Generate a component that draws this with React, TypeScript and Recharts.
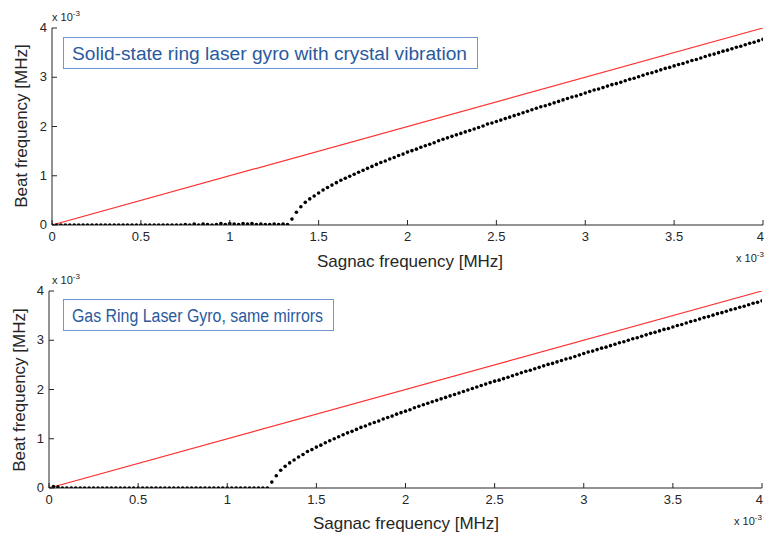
import { ComposedChart, Scatter, Line, XAxis, YAxis } from 'recharts'

// x: Sagnac frequency (x 10^-3 MHz), sampled every 0.025
const SAGNAC = [
  0, 0.025, 0.05, 0.075, 0.1, 0.125, 0.15, 0.175,
  0.2, 0.225, 0.25, 0.275, 0.3, 0.325, 0.35, 0.375,
  0.4, 0.425, 0.45, 0.475, 0.5, 0.525, 0.55, 0.575,
  0.6, 0.625, 0.65, 0.675, 0.7, 0.725, 0.75, 0.775,
  0.8, 0.825, 0.85, 0.875, 0.9, 0.925, 0.95, 0.975,
  1, 1.025, 1.05, 1.075, 1.1, 1.125, 1.15, 1.175,
  1.2, 1.225, 1.25, 1.275, 1.3, 1.325, 1.35, 1.375,
  1.4, 1.425, 1.45, 1.475, 1.5, 1.525, 1.55, 1.575,
  1.6, 1.625, 1.65, 1.675, 1.7, 1.725, 1.75, 1.775,
  1.8, 1.825, 1.85, 1.875, 1.9, 1.925, 1.95, 1.975,
  2, 2.025, 2.05, 2.075, 2.1, 2.125, 2.15, 2.175,
  2.2, 2.225, 2.25, 2.275, 2.3, 2.325, 2.35, 2.375,
  2.4, 2.425, 2.45, 2.475, 2.5, 2.525, 2.55, 2.575,
  2.6, 2.625, 2.65, 2.675, 2.7, 2.725, 2.75, 2.775,
  2.8, 2.825, 2.85, 2.875, 2.9, 2.925, 2.95, 2.975,
  3, 3.025, 3.05, 3.075, 3.1, 3.125, 3.15, 3.175,
  3.2, 3.225, 3.25, 3.275, 3.3, 3.325, 3.35, 3.375,
  3.4, 3.425, 3.45, 3.475, 3.5, 3.525, 3.55, 3.575,
  3.6, 3.625, 3.65, 3.675, 3.7, 3.725, 3.75, 3.775,
  3.8, 3.825, 3.85, 3.875, 3.9, 3.925, 3.95, 3.975,
  4,
]

// beat frequency, solid-state gyro (locks below ~1.35)
const BEAT_SOLID = [
  0, 0, 0, 0, 0, 0, 0, 0,
  0, 0, 0, 0, 0, 0, 0, 0,
  0, 0, 0, 0, 0, 0, 0, 0,
  0, 0, 0, 0, 0, 0, 0.01, 0,
  0.02, 0, 0.02, 0.01, 0, 0.01, 0.03, 0.01,
  0.03, 0.02, 0.01, 0.03, 0.02, 0.03, 0.01, 0.02,
  0.01, 0.01, 0.02, 0.01, 0.02, 0.01, 0.12, 0.26,
  0.37, 0.46, 0.53, 0.59, 0.65, 0.71, 0.76, 0.81,
  0.86, 0.91, 0.95, 0.99, 1.03, 1.07, 1.11, 1.15,
  1.19, 1.23, 1.27, 1.3, 1.34, 1.37, 1.41, 1.44,
  1.48, 1.51, 1.54, 1.58, 1.61, 1.64, 1.67, 1.71,
  1.74, 1.77, 1.8, 1.83, 1.86, 1.89, 1.92, 1.95,
  1.98, 2.01, 2.05, 2.07, 2.1, 2.13, 2.16, 2.19,
  2.22, 2.25, 2.28, 2.31, 2.34, 2.37, 2.4, 2.42,
  2.45, 2.48, 2.51, 2.54, 2.57, 2.6, 2.62, 2.65,
  2.68, 2.71, 2.74, 2.76, 2.79, 2.82, 2.85, 2.87,
  2.9, 2.93, 2.96, 2.98, 3.01, 3.04, 3.07, 3.09,
  3.12, 3.15, 3.18, 3.2, 3.23, 3.26, 3.28, 3.31,
  3.34, 3.36, 3.39, 3.42, 3.45, 3.47, 3.5, 3.53,
  3.55, 3.58, 3.61, 3.63, 3.66, 3.69, 3.71, 3.74,
  3.77,
]

// beat frequency, gas gyro (locks below ~1.25)
const BEAT_GAS = [
  0, 0.03, 0.02, 0, 0, 0, 0, 0,
  0, 0, 0, 0, 0, 0, 0, 0,
  0, 0, 0, 0, 0, 0, 0, 0,
  0, 0, 0, 0, 0, 0, 0, 0,
  0, 0, 0, 0, 0, 0, 0, 0,
  0, 0, 0, 0, 0, 0, 0, 0,
  0, 0, 0.12, 0.25, 0.36, 0.44, 0.51, 0.57,
  0.63, 0.68, 0.74, 0.78, 0.83, 0.87, 0.92, 0.96,
  1, 1.04, 1.08, 1.12, 1.15, 1.19, 1.23, 1.26,
  1.3, 1.33, 1.36, 1.4, 1.43, 1.46, 1.5, 1.53,
  1.56, 1.59, 1.63, 1.66, 1.69, 1.72, 1.75, 1.78,
  1.81, 1.84, 1.87, 1.9, 1.93, 1.96, 1.99, 2.02,
  2.05, 2.08, 2.11, 2.14, 2.17, 2.19, 2.22, 2.25,
  2.28, 2.31, 2.34, 2.37, 2.39, 2.42, 2.45, 2.48,
  2.51, 2.53, 2.56, 2.59, 2.62, 2.64, 2.67, 2.7,
  2.73, 2.76, 2.78, 2.81, 2.84, 2.86, 2.89, 2.92,
  2.95, 2.97, 3, 3.03, 3.05, 3.08, 3.11, 3.14,
  3.16, 3.19, 3.22, 3.24, 3.27, 3.3, 3.32, 3.35,
  3.38, 3.4, 3.43, 3.46, 3.48, 3.51, 3.54, 3.56,
  3.59, 3.62, 3.64, 3.67, 3.69, 3.72, 3.75, 3.77,
  3.8,
]

// ideal (no lock-in) response, red line
const IDEAL_X = [0, 4]
const IDEAL_Y = [0, 4]

const X_TICKS = [0, 0.5, 1, 1.5, 2, 2.5, 3, 3.5, 4]
const Y_TICKS = [0, 1, 2, 3, 4]

const FONT = 'Arial, "Liberation Sans", Helvetica, sans-serif'
const INK = '#262626'
const RED = '#ff3030'
const BOX = '#7196d0'
const BOX_TEXT = '#2a5a9e'

const fmt = (v: number) => String(v)

// last label sits on the page edge, so pin it to the right instead of centring
const BottomTick = (p: any) => {
  const last = p.payload.value === X_TICKS[X_TICKS.length - 1]
  return (
    <g>
      <line x1={p.x} y1={p.y} x2={p.x} y2={p.y - 5} stroke={INK} />
      <text x={last ? p.x + 1 : p.x} y={p.y + 16} textAnchor={last ? 'end' : 'middle'} fontSize={13} fontFamily={FONT} fill={INK}>
        {fmt(p.payload.value)}
      </text>
    </g>
  )
}
const TopTick = (p: any) => <line x1={p.x} y1={p.y} x2={p.x} y2={p.y + 5} stroke={INK} />
const LeftTick = (p: any) => (
  <g>
    <line x1={p.x} y1={p.y} x2={p.x + 5} y2={p.y} stroke={INK} />
    <text x={p.x - 5} y={p.y + 4} textAnchor="end" fontSize={13} fontFamily={FONT} fill={INK}>
      {fmt(p.payload.value)}
    </text>
  </g>
)
const RightTick = (p: any) => <line x1={p.x} y1={p.y} x2={p.x - 5} y2={p.y} stroke={INK} />

const Dot = (p: any) => <circle cx={p.cx} cy={p.cy} r={1.8} fill="#000" />

function Panel({ beat, top, left, right }: { beat: number[]; top: number; left: number; right: number }) {
  const dots = SAGNAC.map((x, i) => ({ x, y: beat[i] }))
  const ideal = IDEAL_X.map((x, i) => ({ x, y: IDEAL_Y[i] }))
  return (
    <div style={{ position: 'absolute', left: 0, top }}>
      <ComposedChart width={780} height={250} margin={{ top: 28, right, bottom: 5, left: 0 }}>
        <XAxis xAxisId="b" dataKey="x" type="number" domain={[0, 4]} ticks={X_TICKS} height={20}
          tickSize={0} tickMargin={0} tickLine={false} axisLine={{ stroke: INK }} tick={BottomTick} allowDataOverflow />
        <XAxis xAxisId="t" orientation="top" dataKey="x" type="number" domain={[0, 4]} ticks={X_TICKS} height={0}
          tickSize={0} tickMargin={0} tickLine={false} axisLine={{ stroke: INK }} tick={TopTick} allowDataOverflow />
        <YAxis yAxisId="l" dataKey="y" type="number" domain={[0, 4]} ticks={Y_TICKS} width={left}
          tickSize={0} tickMargin={0} tickLine={false} axisLine={{ stroke: INK }} tick={LeftTick} allowDataOverflow />
        <YAxis yAxisId="r" orientation="right" dataKey="y" type="number" domain={[0, 4]} ticks={Y_TICKS} width={0}
          tickSize={0} tickMargin={0} tickLine={false} axisLine={{ stroke: INK }} tick={RightTick} allowDataOverflow />
        <Line xAxisId="b" yAxisId="l" data={ideal} dataKey="y" type="linear" stroke={RED} strokeWidth={1.2}
          dot={false} activeDot={false} isAnimationActive={false} />
        <Scatter xAxisId="b" yAxisId="l" data={dots} dataKey="y" shape={Dot} isAnimationActive={false} />
      </ComposedChart>
    </div>
  )
}

function Exp({ x, y }: { x: number; y: number }) {
  return (
    <text x={x} y={y} fontSize={11} fontFamily={FONT} fill={INK}>
      x 10<tspan dy={-5} fontSize={8}>-3</tspan>
    </text>
  )
}

export default function App() {
  return (
    <div style={{ position: 'absolute', left: 0, top: 0, width: 764, height: 533, background: '#fff', overflow: 'hidden' }}>
      <Panel beat={BEAT_SOLID} top={0} left={52} right={17} />
      <Panel beat={BEAT_GAS} top={263} left={49} right={18} />
      <svg width={764} height={533} style={{ position: 'absolute', left: 0, top: 0, pointerEvents: 'none' }}>
        <Exp x={736} y={262} />
        <Exp x={52} y={21} />
        <Exp x={52} y={284} />
        <Exp x={734} y={525} />
        <text x={410} y={267} textAnchor="middle" fontSize={17} fontFamily={FONT} fill={INK}>Sagnac frequency [MHz]</text>
        <text x={406} y={529} textAnchor="middle" fontSize={17} fontFamily={FONT} fill={INK}>Sagnac frequency [MHz]</text>
        <text transform="translate(27,126) rotate(-90)" textAnchor="middle" fontSize={17} fontFamily={FONT} fill={INK}>Beat frequency [MHz]</text>
        <text transform="translate(25,390) rotate(-90)" textAnchor="middle" fontSize={17} fontFamily={FONT} fill={INK}>Beat frequency [MHz]</text>
        <rect x={63.5} y={37.5} width={414} height={31} fill="#fff" stroke={BOX} />
        <text x={72} y={60} fontSize={18} fontFamily={FONT} fill={BOX_TEXT} textLength={395} lengthAdjust="spacingAndGlyphs">Solid-state ring laser gyro with crystal vibration</text>
        <rect x={63.5} y={299.5} width={270} height={31} fill="#fff" stroke={BOX} />
        <text x={72} y={322} fontSize={18} fontFamily={FONT} fill={BOX_TEXT} textLength={251} lengthAdjust="spacingAndGlyphs">Gas Ring Laser Gyro, same mirrors</text>
      </svg>
    </div>
  )
}
